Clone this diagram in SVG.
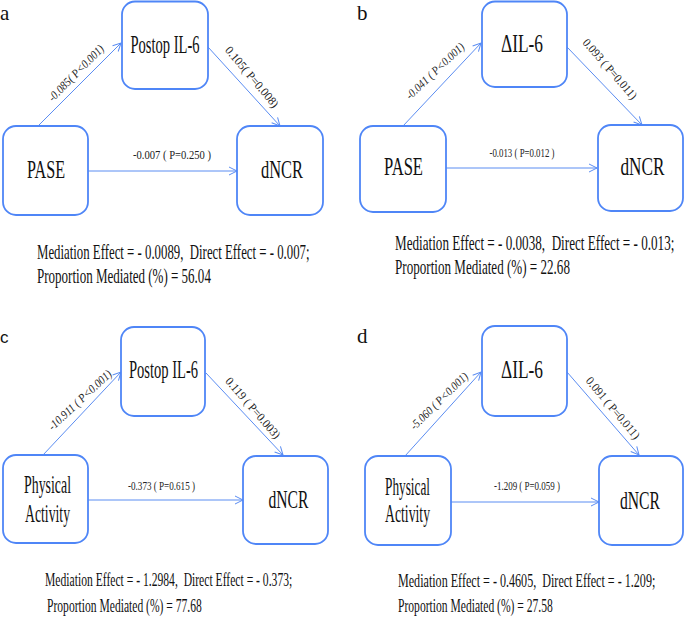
<svg xmlns="http://www.w3.org/2000/svg" width="685" height="620" viewBox="0 0 685 620">
<defs>
<marker id="arr" markerUnits="userSpaceOnUse" markerWidth="10" markerHeight="10" refX="8" refY="4" orient="auto" overflow="visible">
<path d="M0,0 L8,4 L0,8" fill="none" stroke="#5b8df2" stroke-width="1"/>
</marker>
<style>
.box{fill:#fff;stroke:#4f86f7;stroke-width:1.8}
.lbl{font-family:"Liberation Serif","Times New Roman",serif;font-size:25px;fill:#111;text-anchor:middle}
.edge{stroke:#5b8df2;stroke-width:1;fill:none;marker-end:url(#arr)}
.el{font-family:"Liberation Serif","Times New Roman",serif;font-size:12px;fill:#222;text-anchor:middle}
.eli{font-style:italic}
.med{font-family:"Liberation Serif","Times New Roman",serif;font-size:20px;fill:#111}
.med2{font-family:"Liberation Serif","Times New Roman",serif;font-size:18px;fill:#111}
.pl{font-family:"Liberation Serif","Times New Roman",serif;font-size:21px;fill:#111}
</style>
</defs>
<rect width="685" height="620" fill="#fff"/>

<!-- panel letters -->
<text class="pl" x="0" y="20">a</text>
<text class="pl" x="357" y="20">b</text>
<text x="0" y="343" style="font-family:'Liberation Sans',Arial,sans-serif;font-size:17px;fill:#111">c</text>
<text class="pl" x="357" y="343">d</text>

<g id="connectors">
<line class="edge" x1="38" y1="126" x2="121" y2="43"/>
<line class="edge" x1="208" y1="47" x2="280" y2="126"/>
<line class="edge" x1="88" y1="171" x2="237" y2="171"/>
<line class="edge" x1="403" y1="126" x2="481" y2="43"/>
<line class="edge" x1="567" y1="47" x2="642" y2="125"/>
<line class="edge" x1="446" y1="168" x2="597" y2="168"/>
<line class="edge" x1="43" y1="455" x2="121" y2="372"/>
<line class="edge" x1="206" y1="373" x2="283" y2="455"/>
<line class="edge" x1="88" y1="500" x2="243" y2="500"/>
<line class="edge" x1="405" y1="456" x2="481" y2="372"/>
<line class="edge" x1="567" y1="372" x2="639" y2="455"/>
<line class="edge" x1="451" y1="502" x2="599" y2="502"/>

<g transform="translate(76,73) rotate(-45.5)"><text class="el eli" x="0" y="4" textLength="74" lengthAdjust="spacingAndGlyphs">-0.085( P&lt;0.001)</text></g>
<g transform="translate(252,77) rotate(50)"><text class="el" x="0" y="4" textLength="76" lengthAdjust="spacingAndGlyphs">0.105( P=0.008)</text></g>
<text class="el" x="172" y="159" textLength="78" lengthAdjust="spacingAndGlyphs">-0.007 ( P=0.250 )</text>

<g transform="translate(435,71) rotate(-43.5)"><text class="el eli" x="0" y="4" textLength="76" lengthAdjust="spacingAndGlyphs">-0.041 ( P&lt;0.001)</text></g>
<g transform="translate(610,69) rotate(49)"><text class="el" x="0" y="4" textLength="76" lengthAdjust="spacingAndGlyphs">0.093 ( P=0.011)</text></g>
<text class="el" x="522" y="157" textLength="65" lengthAdjust="spacingAndGlyphs">-0.013 ( P=0.012 )</text>

<g transform="translate(80,400) rotate(-43)"><text class="el eli" x="0" y="4" textLength="82" lengthAdjust="spacingAndGlyphs">-10.911 ( P&lt;0.001)</text></g>
<g transform="translate(253,408) rotate(49)"><text class="el" x="0" y="4" textLength="77" lengthAdjust="spacingAndGlyphs">0.119 ( P=0.003)</text></g>
<text class="el" x="161.5" y="490" textLength="67" lengthAdjust="spacingAndGlyphs">-0.373 ( P=0.615 )</text>

<g transform="translate(439,401) rotate(-44.5)"><text class="el eli" x="0" y="4" textLength="76" lengthAdjust="spacingAndGlyphs">-5.060 ( P&lt;0.001)</text></g>
<g transform="translate(613,408) rotate(50)"><text class="el" x="0" y="4" textLength="77" lengthAdjust="spacingAndGlyphs">0.091 ( P=0.011)</text></g>
<text class="el" x="527" y="490" textLength="66" lengthAdjust="spacingAndGlyphs">-1.209 ( P=0.059 )</text>
</g>

<!-- panel a -->
<g id="a-postop"><rect class="box" x="122" y="1.5" width="86" height="87.5" rx="13"/><text class="lbl" x="165" y="53" textLength="69" lengthAdjust="spacingAndGlyphs">Postop IL-6</text></g>
<g id="a-pase"><rect class="box" x="3" y="126" width="85" height="89" rx="13"/><text class="lbl" x="46" y="178" textLength="38" lengthAdjust="spacingAndGlyphs">PASE</text></g>
<g id="a-dncr"><rect class="box" x="237" y="126" width="86" height="89" rx="13"/><text class="lbl" x="282" y="178" textLength="42" lengthAdjust="spacingAndGlyphs">dNCR</text></g>

<!-- panel b -->
<g id="b-dil6"><rect class="box" x="482" y="1.5" width="85" height="85.5" rx="13"/><text class="lbl" x="522" y="52" textLength="42" lengthAdjust="spacingAndGlyphs">ΔIL-6</text></g>
<g id="b-pase"><rect class="box" x="360" y="126" width="86" height="86" rx="13"/><text class="lbl" x="403.5" y="175" textLength="39" lengthAdjust="spacingAndGlyphs">PASE</text></g>
<g id="b-dncr"><rect class="box" x="598" y="125" width="85" height="86" rx="13"/><text class="lbl" x="642.5" y="175" textLength="44" lengthAdjust="spacingAndGlyphs">dNCR</text></g>

<!-- panel c -->
<g id="c-postop"><rect class="box" x="121" y="327" width="84" height="89" rx="13"/><text class="lbl" x="163.5" y="378" textLength="69" lengthAdjust="spacingAndGlyphs">Postop IL-6</text></g>
<g id="c-pa"><rect class="box" x="3" y="455" width="85" height="88" rx="13"/><text class="lbl" x="47.5" y="493" textLength="47" lengthAdjust="spacingAndGlyphs">Physical</text><text class="lbl" x="47.5" y="522" textLength="45" lengthAdjust="spacingAndGlyphs">Activity</text></g>
<g id="c-dncr"><rect class="box" x="243" y="456" width="85" height="88" rx="13"/><text class="lbl" x="288.5" y="508" textLength="40" lengthAdjust="spacingAndGlyphs">dNCR</text></g>

<!-- panel d -->
<g id="d-dil6"><rect class="box" x="482" y="326" width="85" height="90" rx="13"/><text class="lbl" x="522" y="378" textLength="42" lengthAdjust="spacingAndGlyphs">ΔIL-6</text></g>
<g id="d-pa"><rect class="box" x="365" y="456" width="86" height="89" rx="13"/><text class="lbl" x="407.5" y="495" textLength="45" lengthAdjust="spacingAndGlyphs">Physical</text><text class="lbl" x="407.5" y="522" textLength="45" lengthAdjust="spacingAndGlyphs">Activity</text></g>
<g id="d-dncr"><rect class="box" x="599" y="456" width="84" height="89" rx="13"/><text class="lbl" x="640" y="509" textLength="40" lengthAdjust="spacingAndGlyphs">dNCR</text></g>

<!-- summary texts -->
<text class="med" transform="translate(37,259) scale(0.641,1)">Mediation Effect = - 0.0089,&#160; Direct Effect = - 0.007;</text>
<text class="med" transform="translate(37,283) scale(0.651,1)">Proportion Mediated (%) = 56.04</text>
<text class="med" transform="translate(395,250) scale(0.657,1)">Mediation Effect = - 0.0038,&#160; Direct Effect = - 0.013;</text>
<text class="med" transform="translate(395,274) scale(0.655,1)">Proportion Mediated (%) = 22.68</text>
<text class="med2" transform="translate(45,586) scale(0.646,1)">Mediation Effect = - 1.2984,&#160; Direct Effect = - 0.373;</text>
<text class="med2" transform="translate(47,612) scale(0.644,1)">Proportion Mediated (%) = 77.68</text>
<text class="med2" transform="translate(398,587) scale(0.672,1)">Mediation Effect = - 0.4605,&#160; Direct Effect = - 1.209;</text>
<text class="med2" transform="translate(398,612) scale(0.644,1)">Proportion Mediated (%) = 27.58</text>
</svg>
